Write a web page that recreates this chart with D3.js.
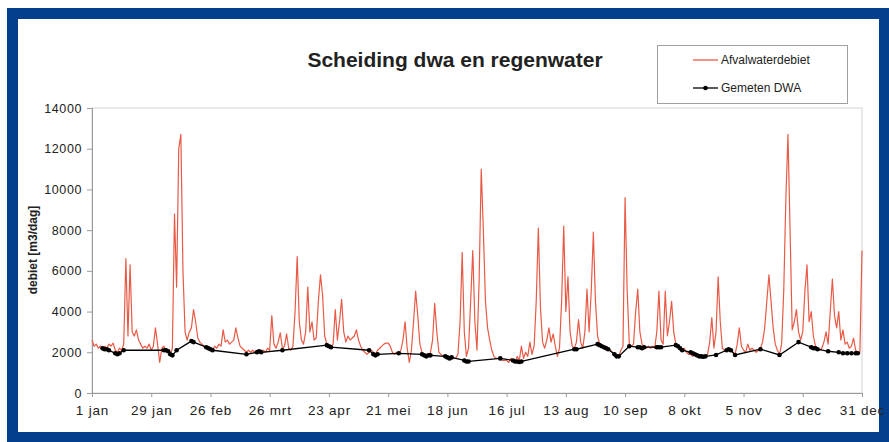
<!DOCTYPE html>
<html lang="nl">
<head>
  <meta charset="UTF-8">
  <title>Scheiding dwa en regenwater</title>
  <style>
    body, html {
      margin: 0;
      padding: 0;
      background: #fff;
    }
    svg text {
      font-family: Arial, "Liberation Sans", sans-serif;
    }
  </style>
</head>
<body>
  <svg id="svg" width="889" height="442"></svg>
  <script src="https://d3js.org/d3.v7.min.js"></script>
  <script>
    // x-axis ticks: every 28 days from 1 jan
    const tickDays = [0, 28, 56, 84, 112, 140, 168, 196, 224, 252, 280, 308, 336, 364]
    const tickLabels = ['1 jan', '29 jan', '26 feb', '26 mrt', '23 apr', '21 mei', '18 jun',
      '16 jul', '13 aug', '10 sep', '8 okt', '5 nov', '3 dec', '31 dec']
    const yTicks = [0, 2000, 4000, 6000, 8000, 10000, 12000, 14000]

    // Afvalwaterdebiet, one value per day (m3/dag)
    const afvalwater = [
      2600, 2300, 2400, 2200, 2300, 2100, 2300, 2200, 2400, 2300, 2450, 2100, 2000, 2200,
      2100, 2400, 6600, 2800, 6300, 3000, 2800, 3100, 2600, 2400, 2200, 2300, 2200, 2400,
      2100, 2300, 3200, 2400, 1500, 2200, 2300, 2100, 2000, 1900, 2200, 8800, 5200, 12000,
      12700, 6000, 3000, 2600, 3000, 3200, 4100, 3500, 2700, 2500, 2400, 2300, 2200, 2300,
      2200, 2100, 2300, 2200, 2400, 2300, 3100, 2500, 2600, 2400, 2500, 2600, 3200, 2700,
      2300, 2200, 2100, 2000, 2100, 2000, 2100, 2000, 2100, 2000, 2100, 2100, 2000, 2200,
      2100, 3800, 2400, 2200, 2500, 2950, 2200, 2300, 2900, 2200, 2100, 2300, 4000, 6700,
      3500, 2600, 2400, 3000, 5200, 3000, 3500, 2600, 2700, 4500, 5800, 4800, 2800, 2400,
      2300, 2300, 2400, 4100, 2600, 3500, 4600, 3000, 2500, 2800, 2600, 2700, 2800, 3100,
      2600, 2300, 2100, 2000, 1900, 2000, 2100, 2000, 1900, 2100, 2200, 2300, 2400, 2450,
      2450, 2300, 2000, 1900, 2000, 1900, 2100, 2600, 3500, 2200, 1500, 2100, 3500, 5000,
      3800, 2400, 2000, 1900, 1900, 1800, 2000, 2600, 4400, 3000, 2000, 1900, 1800, 1800,
      1800, 1700, 1800, 1700, 1700, 1900, 3500, 6900, 3000, 1800, 2200, 4500, 7000, 3500,
      2100, 5500, 11000, 8000, 4500, 3200, 2600, 2100, 1800, 1700, 1700, 1700, 1600, 1600,
      1600, 1500, 1700, 1600, 1500, 1800, 1600, 2300, 1700, 2000, 1800, 2500, 1900, 2300,
      4500, 8100, 4200, 2500, 2200, 2600, 3200, 2500, 2900, 2300, 1800, 2200, 4500, 8200,
      4000, 5700, 3000, 2300, 2200, 2500, 3600, 2500, 2200, 3000, 5100, 3000, 5000, 7900,
      4500, 2800, 2400, 2300, 2200, 2300, 2200, 2100, 2000, 1900, 1800, 1800, 2100, 2300,
      9600, 5000, 2400, 2300, 2400, 4000, 5100, 3000, 2400, 2300, 2200, 2300, 2200, 2300,
      2200, 3000, 5000, 2600, 2400, 5000, 2800, 3500, 4500, 3000, 2400, 2300, 2200, 2100,
      2200, 2000, 1900, 1900, 1800, 1900, 1800, 1800, 1700, 1800, 1800, 1900, 2500, 3700,
      2200, 3000, 5700, 3500, 2200, 2100, 2100, 2200, 2100, 2000, 1900, 2400, 3200, 2300,
      2100, 2000, 2400, 2100, 2200, 2100, 2000, 2100, 2200, 2500, 3200, 4500, 5800, 4500,
      3200, 2400, 2100, 1900, 2400, 5000, 9500, 12700, 8000, 3100, 3500, 4100, 3000, 2600,
      3000, 5000, 6300, 3500, 4000, 2800, 2300, 2200, 2100, 2200, 2500, 3000, 2400, 4000,
      5600, 3800, 3200, 4000, 2600, 3100, 2400, 2500, 2200, 2300, 2700, 2100, 2000, 2000,
      7000
    ]

    // Gemeten DWA: measured dry weather days [day, m3/dag]
    const dwaDays = [5, 6, 7, 8, 11, 12, 13, 15, 34, 35, 36, 37, 38, 40, 47, 48, 54, 55, 56, 57,
      73, 78, 79, 80, 90, 111, 112, 113, 131, 133, 134, 135, 145, 156, 157, 158, 159, 160,
      167, 168, 169, 170, 176, 177, 178, 193, 199, 200, 201, 202, 203, 228, 229,
      239, 240, 241, 242, 243, 244, 247, 248, 249, 254, 258, 259, 260, 261, 267, 268, 269,
      276, 277, 278, 279, 283, 284, 285, 286, 287, 288, 289, 290, 295, 300, 301, 302, 304,
      316, 325, 334, 340, 341, 342, 343, 348, 353, 355, 357, 359, 361, 362]
    const dwaValues = [2200, 2150, 2150, 2100, 1950, 1900, 1950, 2100, 2100, 2100, 2050, 1900, 1850, 2100, 2550, 2500, 2250, 2200, 2150, 2100,
      1900, 2000, 2050, 2000, 2100, 2350, 2300, 2250, 2100, 1900, 1850, 1900, 1950, 1900, 1850, 1800, 1850, 1850,
      1800, 1750, 1700, 1750, 1600, 1550, 1550, 1700, 1600, 1550, 1550, 1520, 1550, 2150, 2150,
      2400, 2350, 2300, 2250, 2200, 2150, 1900, 1800, 1800, 2300, 2250, 2250, 2200, 2250, 2250, 2250, 2250,
      2350, 2300, 2200, 2100, 2000, 1950, 1900, 1850, 1800, 1800, 1780, 1800, 1870, 2100, 2150, 2100, 1870,
      2150, 1870, 2500, 2250, 2200, 2200, 2150, 2050, 2000, 1950, 1950, 1950, 1950, 1950]

    const seriesNames = ['Afvalwaterdebiet', 'Gemeten DWA']
    const redColor = '#e85a46'

    const svg = d3.select('#svg')

    // blue frame around the picture
    svg.append('rect')
      .attr('x', 12.5).attr('y', 13.5)
      .attr('width', 872).attr('height', 424)
      .attr('fill', '#fff')
      .attr('stroke', '#033f8c')
      .attr('stroke-width', 11)

    const x = d3.scaleLinear().domain([0, 364]).range([92, 862])
    const y = d3.scaleLinear().domain([0, 14000]).range([393, 108])

    // plot area border
    svg.append('rect')
      .attr('x', x(0)).attr('y', y(14000))
      .attr('width', x(364) - x(0)).attr('height', y(0) - y(14000))
      .attr('fill', 'none')
      .attr('stroke', '#d4d4d4')

    // y axis
    const yAxis = svg.append('g')
      .attr('transform', `translate(${x(0)},0)`)
      .call(d3.axisLeft(y).tickValues(yTicks).tickFormat(d3.format('d')).tickSize(5).tickPadding(5))
    yAxis.select('.domain').attr('stroke', '#9a9a9a')
    yAxis.selectAll('.tick line').attr('stroke', '#9a9a9a')
    yAxis.selectAll('text')
      .attr('font-size', 12.5)
      .attr('letter-spacing', 0.6)
      .attr('fill', '#222')
      .attr('font-family', null)

    // x axis
    const xAxis = svg.append('g')
      .attr('transform', `translate(0,${y(0)})`)
      .call(d3.axisBottom(x).tickValues(tickDays).tickFormat((d, i) => tickLabels[i]).tickSize(4).tickPadding(8))
    xAxis.select('.domain').attr('stroke', '#9a9a9a')
    xAxis.selectAll('.tick line').attr('stroke', '#9a9a9a')
    xAxis.selectAll('text')
      .attr('font-size', 13.5)
      .attr('letter-spacing', 0.8)
      .attr('fill', '#222')
      .attr('font-family', null)

    // red daily line
    const line = d3.line()
      .x((d, i) => x(i))
      .y(d => y(d))
    svg.append('path')
      .datum(afvalwater)
      .attr('d', line)
      .attr('fill', 'none')
      .attr('stroke', redColor)
      .attr('stroke-width', 1.2)
      .attr('stroke-linejoin', 'round')

    // black DWA line with markers
    const dwa = dwaDays.map((d, i) => [d, dwaValues[i]])
    svg.append('path')
      .datum(dwa)
      .attr('d', d3.line().x(d => x(d[0])).y(d => y(d[1])))
      .attr('fill', 'none')
      .attr('stroke', '#000')
      .attr('stroke-width', 1.3)
    svg.append('g')
      .selectAll('circle')
      .data(dwa)
      .join('circle')
      .attr('cx', d => x(d[0]))
      .attr('cy', d => y(d[1]))
      .attr('r', 2.3)
      .attr('fill', '#000')

    // title
    svg.append('text')
      .attr('x', 455).attr('y', 67)
      .attr('text-anchor', 'middle')
      .attr('font-size', 21)
      .attr('font-weight', 'bold')
      .attr('fill', '#222')
      .text('Scheiding dwa en regenwater')

    // y axis title
    svg.append('text')
      .attr('transform', 'translate(37,250) rotate(-90)')
      .attr('text-anchor', 'middle')
      .attr('font-size', 12)
      .attr('font-weight', 'bold')
      .attr('fill', '#222')
      .text('debiet [m3/dag]')

    // legend
    const legend = svg.append('g')
    legend.append('rect')
      .attr('x', 657.5).attr('y', 45.5)
      .attr('width', 190).attr('height', 58)
      .attr('fill', '#fff')
      .attr('stroke', '#a0a0a0')
    seriesNames.forEach((name, i) => {
      const ly = 60 + i * 28
      legend.append('line')
        .attr('x1', 693).attr('x2', 718)
        .attr('y1', ly).attr('y2', ly)
        .attr('stroke', i === 0 ? redColor : '#000')
        .attr('stroke-width', 1.3)
      if (i === 1) {
        legend.append('circle')
          .attr('cx', 705.5).attr('cy', ly).attr('r', 2.3)
          .attr('fill', '#000')
      }
      legend.append('text')
        .attr('x', 721).attr('y', ly + 4)
        .attr('font-size', 12)
        .attr('fill', '#222')
        .text(name)
    })
  </script>
</body>
</html>
